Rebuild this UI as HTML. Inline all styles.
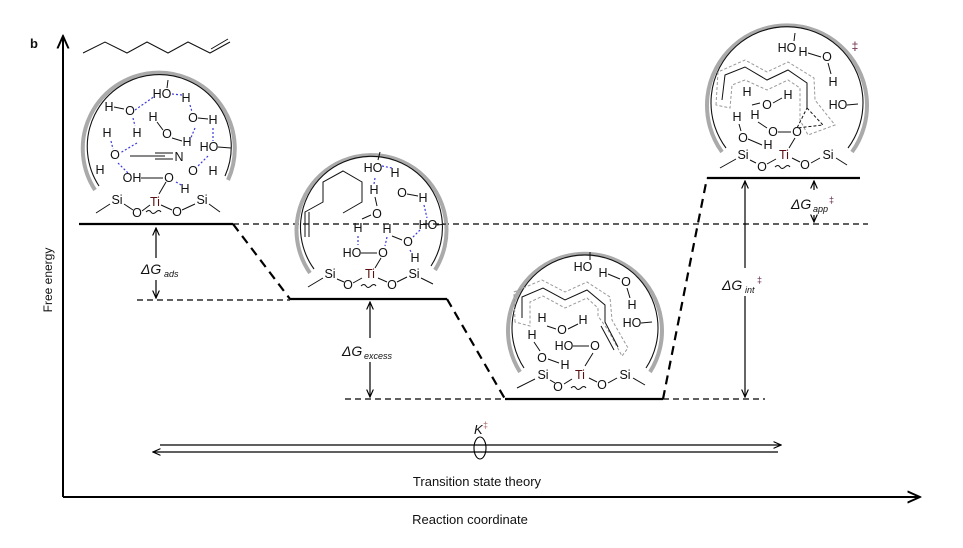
<!DOCTYPE html>
<html><head><meta charset="utf-8"><style>
html,body{margin:0;padding:0;background:#fff}
svg{display:block}
text{font-family:"Liberation Sans",sans-serif;fill:#111}
.a{font-size:12.5px;text-anchor:middle}
.ti{fill:#5a1010}
.hb{stroke:#3a3ae0;stroke-width:1.2;stroke-dasharray:2 2;fill:none}
.bd{stroke:#111;stroke-width:1;fill:none}
.gr{stroke:#aaa;stroke-width:4;fill:none}
.bk{stroke:#111;stroke-width:1.1;fill:none}
.dc{stroke:#999;stroke-width:1;stroke-dasharray:3 2;fill:none}
.lv{stroke:#000;stroke-width:2.2}
.ds{stroke:#000;stroke-width:1.2;stroke-dasharray:6 4}
.dd{stroke:#000;stroke-width:2.2;stroke-dasharray:9 6}
.ar{stroke:#000;stroke-width:1.2}
</style></head><body>
<svg width="963" height="548" viewBox="0 0 963 548" xmlns="http://www.w3.org/2000/svg">
<defs>
<marker id="ah" viewBox="0 0 10 10" refX="9" refY="5" markerWidth="7" markerHeight="7" orient="auto-start-reverse"><path d="M0,1 L9,5 L0,9" fill="none" stroke="#000" stroke-width="1.4"/></marker>
</defs>
<text x="30" y="48" style="font-size:13px;font-weight:bold">b</text>
<line x1="63" y1="497" x2="63" y2="36" stroke="#000" stroke-width="2" marker-end="url(#ah)"/>
<line x1="63" y1="497" x2="920" y2="497" stroke="#000" stroke-width="2" marker-end="url(#ah)"/>
<text transform="translate(52,280) rotate(-90)" style="font-size:12px;text-anchor:middle">Free energy</text>
<text x="470" y="524" style="font-size:13px;text-anchor:middle">Reaction coordinate</text>
<text x="477" y="486" style="font-size:13px;text-anchor:middle">Transition state theory</text>
<line x1="160" y1="445" x2="781" y2="445" class="ar" marker-end="url(#ah)"/>
<line x1="778" y1="452" x2="153" y2="452" class="ar" marker-end="url(#ah)"/>
<ellipse cx="480" cy="448" rx="6" ry="11" fill="none" stroke="#000" stroke-width="1.1"/>
<text x="474" y="434" style="font-size:13px;font-style:italic">K</text><text x="483" y="428" style="font-size:9px;fill:#a66">‡</text>

<line x1="233" y1="224" x2="868" y2="224" class="ds"/>
<line x1="137" y1="300" x2="290" y2="300" class="ds"/>
<line x1="345" y1="399" x2="505" y2="399" class="ds"/>
<line x1="663" y1="399" x2="765" y2="399" class="ds"/>
<line x1="79" y1="224" x2="233" y2="224" class="lv"/>
<line x1="290" y1="299" x2="447" y2="299" class="lv"/>
<line x1="505" y1="399" x2="663" y2="399" class="lv"/>
<line x1="707" y1="178" x2="860" y2="178" class="lv"/>
<line x1="233" y1="224" x2="290" y2="299" class="dd"/>
<line x1="447" y1="299" x2="505" y2="399" class="dd"/>
<line x1="663" y1="399" x2="707" y2="178" class="dd"/>
<line x1="156" y1="258" x2="156" y2="228" class="ar" marker-end="url(#ah)"/>
<line x1="156" y1="280" x2="156" y2="298" class="ar" marker-end="url(#ah)"/>
<text x="141" y="274" style="font-size:14px;font-style:italic">ΔG</text><text x="164" y="277" style="font-size:9px;font-style:italic">ads</text>
<line x1="370" y1="338" x2="370" y2="302" class="ar" marker-end="url(#ah)"/>
<line x1="370" y1="362" x2="370" y2="397" class="ar" marker-end="url(#ah)"/>
<text x="342" y="356" style="font-size:14px;font-style:italic">ΔG</text><text x="364" y="359" style="font-size:9px;font-style:italic">excess</text>
<line x1="745" y1="268" x2="745" y2="181" class="ar" marker-end="url(#ah)"/>
<line x1="745" y1="296" x2="745" y2="397" class="ar" marker-end="url(#ah)"/>
<text x="722" y="290" style="font-size:14px;font-style:italic">ΔG</text><text x="745" y="293" style="font-size:9px;font-style:italic">int</text><text x="757" y="283" style="font-size:9px;fill:#624">‡</text>
<line x1="814" y1="190" x2="814" y2="181" class="ar" marker-end="url(#ah)"/>
<line x1="814" y1="215" x2="814" y2="222" class="ar" marker-end="url(#ah)"/>
<text x="791" y="209" style="font-size:14px;font-style:italic">ΔG</text><text x="813" y="212" style="font-size:9px;font-style:italic">app</text><text x="829" y="203" style="font-size:9px;fill:#624">‡</text>

<polyline class="bd" points="83,53 105,42 127,53 147,42 168,53 188,42 210,53 230,42" stroke-width="1.2"/>
<line x1="211" y1="49" x2="228" y2="39" class="bd"/>

<!-- STRUCTURE 1 -->
<path class="gr" d="M95,190 A76,76 0 1,1 228,180" fill="#fff"/>
<path class="bk" d="M99,186 A72,72 0 1,1 225,176"/>
<line x1="168" y1="80" x2="167" y2="88" class="bd"/>
<text x="162" y="98" class="a">HO</text>
<text x="109" y="111" class="a">H</text><text x="130" y="115" class="a">O</text><line x1="114" y1="107" x2="124" y2="109" class="bd"/>
<text x="186" y="102" class="a">H</text>
<text x="153" y="121" class="a">H</text><text x="167" y="138" class="a">O</text><text x="187" y="146" class="a">H</text>
<text x="193" y="122" class="a">O</text><text x="213" y="124" class="a">H</text><line x1="198" y1="118" x2="208" y2="119" class="bd"/>
<text x="107" y="137" class="a">H</text><text x="137" y="137" class="a">H</text>
<text x="209" y="151" class="a">HO</text><line x1="218" y1="147" x2="231" y2="148" class="bd"/>
<text x="115" y="159" class="a">O</text><text x="100" y="174" class="a">H</text>
<line x1="130" y1="156" x2="165" y2="156" class="bd"/><line x1="155" y1="153" x2="173" y2="153" class="bd"/><line x1="155" y1="159" x2="173" y2="159" class="bd"/>
<text x="179" y="161" class="a">N</text>
<text x="193" y="175" class="a">O</text><text x="213" y="175" class="a">H</text>
<text x="132" y="182" class="a">OH</text><line x1="141" y1="178" x2="163" y2="178" class="bd"/><text x="169" y="182" class="a">O</text>
<text x="185" y="193" class="a">H</text>
<text x="155" y="206" class="a ti">Ti</text><text x="117" y="204" class="a">Si</text><text x="202" y="204" class="a">Si</text>
<text x="137" y="217" class="a">O</text><text x="177" y="216" class="a">O</text>
<path class="bd" d="M96,213 L110,204 M124,204 L133,210 M142,211 L150,205 M161,205 L172,210 M182,210 L195,204 M209,204 L220,212 M166,182 L159,194"/>
<path class="hb" d="M135,110 L155,96 M172,94 L182,95 M190,105 L192,112 M195,128 L190,140 M213,128 L213,141 M111,141 L113,149 M133,118 L135,126 M137,143 L120,153 M118,163 L128,173 M208,156 L198,166 M176,182 L183,186"/>
<path class="bd" d="M157,122 L163,130 M172,138 L182,141 M146,212 q3,-3 5,0 t5,0 t5,0"/>

<!-- STRUCTURE 2 -->
<path class="gr" d="M310,273 A75,75 0 1,1 435,270" fill="#fff"/>
<path class="bk" d="M314,269 A71,71 0 1,1 431,266"/>
<line x1="380" y1="152" x2="378" y2="160" class="bd"/>
<polyline class="bd" points="305,237 305,212 323,202 323,182 343,171 362,182 362,202 343,213"/>
<line x1="309" y1="212" x2="309" y2="237" class="bd"/>
<text x="373" y="172" class="a">HO</text>
<text x="395" y="177" class="a">H</text><text x="402" y="197" class="a">O</text><text x="423" y="202" class="a">H</text><line x1="407" y1="194" x2="418" y2="196" class="bd"/>
<text x="374" y="194" class="a">H</text><text x="377" y="218" class="a">O</text><line x1="375" y1="197" x2="377" y2="206" class="bd"/>
<text x="428" y="229" class="a">HO</text><line x1="437" y1="225" x2="446" y2="224" class="bd"/>
<text x="358" y="232" class="a">H</text><text x="387" y="233" class="a">H</text><text x="408" y="246" class="a">O</text><text x="415" y="262" class="a">H</text>
<text x="352" y="257" class="a">HO</text><line x1="361" y1="253" x2="377" y2="253" class="bd"/><text x="383" y="257" class="a">O</text>
<text x="370" y="278" class="a ti">Ti</text><text x="330" y="278" class="a">Si</text><text x="414" y="278" class="a">Si</text>
<text x="348" y="289" class="a">O</text><text x="392" y="289" class="a">O</text>
<path class="bd" d="M308,287 L323,278 M337,279 L344,282 M353,283 L362,278 M378,278 L387,282 M397,282 L407,277 M421,278 L433,284 M381,258 L375,268 M371,215 L362,219 M392,236 L402,240"/>
<path class="hb" d="M375,178 L374,184 M382,166 L392,168 M424,205 L427,218 M358,236 L358,245 M387,237 L385,246 M420,230 L412,238 M410,250 L412,254"/>
<path class="bd" d="M361,286 q3,-3 5,0 t5,0 t5,0"/>

<!-- STRUCTURE 3 -->
<path class="gr" d="M520,372 A77,77 0 1,1 650,372" fill="#fff"/>
<path class="bk" d="M524,368 A73,73 0 1,1 646,368"/>
<path class="dc" d="M515,322 L514,292 L542,280 L565,292 L587,282 L610,297 L612,320 L628,348 L622,356 L608,330 L598,316 L598,308 L587,298 L565,308 L543,296 L530,302 L530,326 Z"/>
<line x1="590" y1="252" x2="590" y2="260" class="bd"/>
<text x="583" y="271" class="a">HO</text>
<text x="603" y="277" class="a">H</text><text x="626" y="286" class="a">O</text><text x="632" y="309" class="a">H</text><line x1="608" y1="274" x2="620" y2="279" class="bd"/><line x1="627" y1="288" x2="630" y2="298" class="bd"/>
<text x="632" y="327" class="a">HO</text><line x1="641" y1="323" x2="652" y2="322" class="bd"/>
<polyline class="bd" points="522,318 522,297 543,288 565,300 587,290 605,305 605,322 618,347"/>
<line x1="601" y1="326" x2="614" y2="350" class="bd"/>
<text x="542" y="322" class="a">H</text><text x="562" y="334" class="a">O</text><text x="583" y="324" class="a">H</text>
<text x="532" y="339" class="a">H</text><text x="542" y="362" class="a">O</text><text x="565" y="369" class="a">H</text><line x1="534" y1="342" x2="540" y2="351" class="bd"/><line x1="548" y1="359" x2="559" y2="363" class="bd"/>
<text x="564" y="350" class="a">HO</text><line x1="573" y1="346" x2="589" y2="346" class="bd"/><text x="595" y="350" class="a">O</text>
<text x="580" y="379" class="a ti">Ti</text><text x="543" y="379" class="a">Si</text><text x="625" y="379" class="a">Si</text>
<text x="558" y="391" class="a">O</text><text x="602" y="389" class="a">O</text>
<path class="bd" d="M517,388 L535,379 M550,380 L555,383 M564,384 L572,379 M589,378 L597,382 M608,383 L617,378 M633,378 L645,385 M593,353 L585,366 M547,326 L556,329 M568,329 L578,324"/>
<path class="bd" d="M571,388 q3,-3 5,0 t5,0 t5,0"/>

<!-- STRUCTURE 4 -->
<path class="gr" d="M722,152 A80,80 0 1,1 852,152" fill="#fff"/>
<path class="bk" d="M726,148 A76,76 0 1,1 848,148"/>
<path class="dc" d="M716,105 L718,72 L745,60 L767,72 L788,62 L814,78 L815,100 L835,125 L808,135 L800,120 L800,88 L788,80 L767,90 L745,80 L732,85 L730,108 Z"/>
<line x1="795" y1="33" x2="794" y2="41" class="bd"/>
<text x="787" y="52" class="a">HO</text>
<text x="803" y="56" class="a">H</text><text x="827" y="61" class="a">O</text><text x="833" y="86" class="a">H</text><line x1="808" y1="53" x2="821" y2="57" class="bd"/><line x1="828" y1="63" x2="831" y2="74" class="bd"/>
<text x="838" y="109" class="a">HO</text><line x1="847" y1="105" x2="858" y2="104" class="bd"/>
<text x="855" y="50" style="font-size:12px;fill:#624;text-anchor:middle">‡</text>
<polyline class="bd" points="722,100 725,75 745,67 767,80 788,70 807,83 807,108"/>
<path d="M807,108 L823,125 L797,128 Z" fill="none" stroke="#111" stroke-width="1" stroke-dasharray="3 2"/>
<text x="747" y="96" class="a">H</text><text x="767" y="109" class="a">O</text><text x="788" y="99" class="a">H</text>
<text x="737" y="121" class="a">H</text><text x="755" y="119" class="a">H</text>
<text x="743" y="142" class="a">O</text><text x="768" y="149" class="a">H</text>
<text x="773" y="136" class="a">O</text><line x1="778" y1="132" x2="791" y2="132" class="bd"/><text x="797" y="136" class="a">O</text>
<text x="784" y="159" class="a ti">Ti</text><text x="743" y="159" class="a">Si</text><text x="828" y="159" class="a">Si</text>
<text x="762" y="171" class="a">O</text><text x="805" y="169" class="a">O</text>
<path class="bd" d="M720,168 L736,159 M750,160 L756,163 M767,164 L776,159 M792,158 L800,162 M811,163 L820,158 M836,158 L847,165 M795,138 L789,148 M739,124 L741,131 M748,139 L762,145 M758,122 L767,128 M752,105 L760,103 M773,103 L782,98"/>
<path class="bd" d="M775,167 q3,-3 5,0 t5,0 t5,0"/>
</svg>
</body></html>
